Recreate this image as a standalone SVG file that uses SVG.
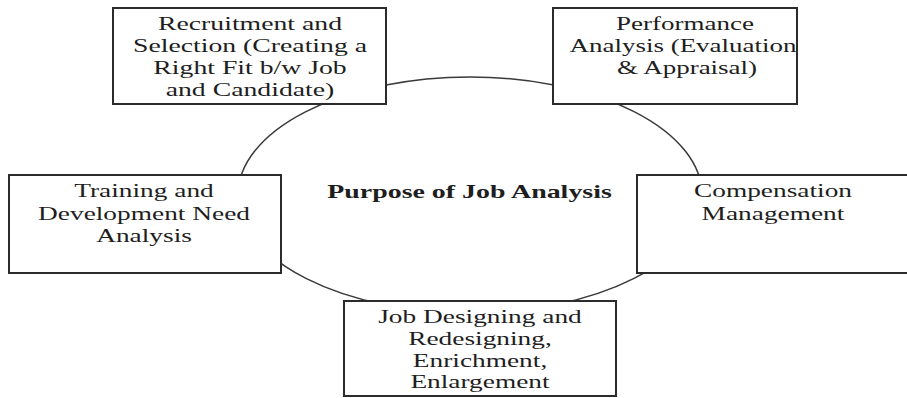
<svg xmlns="http://www.w3.org/2000/svg" width="907" height="398" viewBox="0 0 907 398">
<style>
.box{fill:#ffffff;stroke:#2b2b2b;stroke-width:2}
.ring{fill:none;stroke:#3a3a3a;stroke-width:1.5}
text{font-family:"Liberation Serif","Times New Roman",serif;font-size:19px;fill:#1e1e1e;text-anchor:middle}
.title{font-weight:bold}
</style>
<rect x="0" y="0" width="907" height="398" fill="#ffffff"/>
<g id="connectors">
<ellipse class="ring" cx="470" cy="195" rx="232" ry="118"/>
</g>
<g id="center">
<text class="title" transform="translate(469.5 198) scale(1.47 1)">Purpose of Job Analysis</text>
</g>
<g id="recruitment">
<rect class="box" x="113" y="8" width="273" height="96"/>
<text transform="translate(250 30) scale(1.46 1)">Recruitment and</text>
<text transform="translate(250 52) scale(1.46 1)">Selection (Creating a</text>
<text transform="translate(250 74) scale(1.46 1)">Right Fit b/w Job</text>
<text transform="translate(250 96) scale(1.46 1)">and Candidate)</text>
</g>
<g id="performance">
<rect class="box" x="553" y="8" width="244" height="96"/>
<text transform="translate(685 30) scale(1.42 1)">Performance</text>
<text transform="translate(683 52) scale(1.42 1)">Analysis (Evaluation</text>
<text transform="translate(687 74) scale(1.42 1)">&amp; Appraisal)</text>
</g>
<g id="training">
<rect class="box" x="9" y="175" width="272" height="98"/>
<text transform="translate(144 197) scale(1.44 1)">Training and</text>
<text transform="translate(144 220) scale(1.44 1)">Development Need</text>
<text transform="translate(144 242) scale(1.44 1)">Analysis</text>
</g>
<g id="compensation">
<rect class="box" x="637" y="175" width="275" height="98"/>
<text transform="translate(773 197) scale(1.44 1)">Compensation</text>
<text transform="translate(773 220) scale(1.44 1)">Management</text>
</g>
<g id="jobdesign">
<rect class="box" x="344" y="301" width="272" height="95"/>
<text transform="translate(480 323) scale(1.44 1)">Job Designing and</text>
<text transform="translate(480 345) scale(1.44 1)">Redesigning,</text>
<text transform="translate(480 367) scale(1.44 1)">Enrichment,</text>
<text transform="translate(480 388) scale(1.44 1)">Enlargement</text>
</g>
</svg>
